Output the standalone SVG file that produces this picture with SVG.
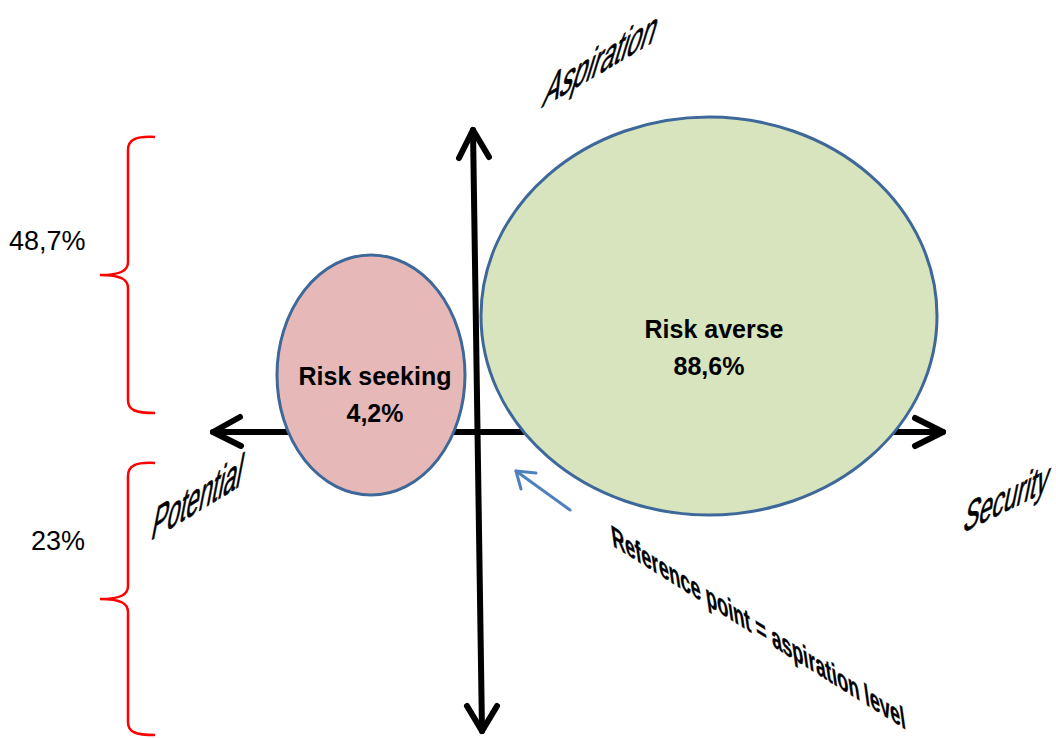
<svg xmlns="http://www.w3.org/2000/svg" width="1056" height="738" viewBox="0 0 1056 738">
<style>
.axis{fill:none;stroke:#000;stroke-width:6;stroke-linecap:round;stroke-linejoin:round}
.brace{fill:none;stroke:#ff0000;stroke-width:2.5}
.ell{stroke:#3e6899;stroke-width:3}
.lbl{font-family:"Liberation Sans",Arial,sans-serif;font-weight:bold;font-size:25px;fill:#000;text-anchor:middle}
.pct{font-family:"Liberation Sans",Arial,sans-serif;font-size:27px;fill:#000}
.ax{font-family:"Liberation Sans",Arial,sans-serif;font-size:30px;fill:#000;stroke:#000;stroke-width:0.5}
</style>
<rect width="1056" height="738" fill="#fff"/>
<g id="connectors">
<path class="axis" d="M473,130 L482,731"/>
<path class="axis" d="M459,158 L473,130 L489,157"/>
<path class="axis" d="M467,706 L482,731 L497,706"/>
<path class="axis" d="M213,432 L943,432"/>
<path class="axis" d="M240,417 L213,432 L241,446"/>
<path class="axis" d="M915,418 L943,432 L915,446"/>
<path d="M570,510 L516,471" fill="none" stroke="#4f81bd" stroke-width="3" stroke-linecap="round"/>
<path d="M536,473 L516,471 L521,489" fill="none" stroke="#4f81bd" stroke-width="3" stroke-linecap="round" stroke-linejoin="round"/>
</g>
<g id="brace-top">
<path class="brace" d="M155,137 C135,136 128,140 128,150 L128,262 C128,270 122,275 100,275 C122,275 128,280 128,288 L128,400 C128,410 135,413 155,413"/>
<text class="pct" x="9" y="250">48,7%</text>
</g>
<g id="brace-bottom">
<path class="brace" d="M155,463 C135,462 128,466 128,476 L128,586 C128,594 122,599 100,599 C122,599 128,604 128,612 L128,722 C128,732 135,735 155,735"/>
<text class="pct" x="31" y="550">23%</text>
</g>
<g id="risk-seeking">
<ellipse class="ell" cx="371" cy="375" rx="94" ry="120" fill="#e6b9b8"/>
<text class="lbl" x="375" y="385">Risk seeking</text>
<text class="lbl" x="375" y="422">4,2%</text>
</g>
<g id="risk-averse">
<ellipse class="ell" cx="709" cy="316" rx="228" ry="199" fill="#d7e4bd"/>
<text class="lbl" x="714" y="338">Risk averse</text>
<text class="lbl" x="709" y="375">88,6%</text>
</g>
<g id="axis-labels">
<text class="ax" transform="matrix(0.836,-0.49,-0.49,1.61,541,108)">Aspiration</text>
<text class="ax" transform="matrix(0.769,-0.469,-0.315,1.63,150,541)">Potential</text>
<text class="ax" transform="matrix(0.78,-0.385,-0.3,1.47,962,533)">Security</text>
<text class="ax" style="font-weight:bold;font-size:28px;stroke-width:0.3" transform="matrix(0.657,0.412,0.155,1.12,613,546)">Reference point = aspiration level</text>
</g>
</svg>
